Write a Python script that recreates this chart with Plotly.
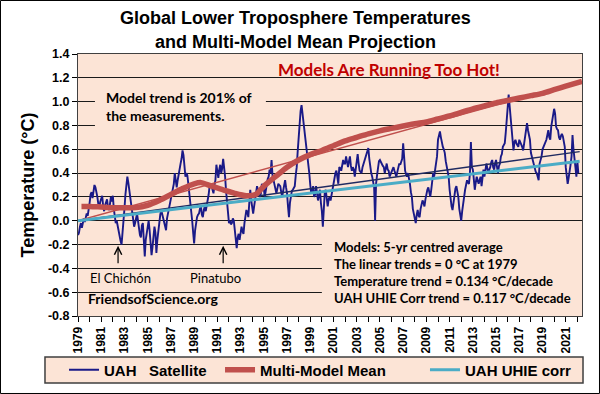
import plotly.graph_objects as go

# ---------------- data ----------------
start_year = 1979
# UAH lower-troposphere monthly anomalies (°C), Jan 1979 onward
uah_satellite = [
    -0.12, -0.10, -0.05, -0.02, -0.06, -0.03, 0.02, -0.01, 0.03, 0.06, 0.04, 0.08,   # 1979
    0.15, 0.22, 0.24, 0.19, 0.27, 0.30, 0.28, 0.25, 0.20, 0.14, 0.11, 0.16,          # 1980
    0.19, 0.21, 0.12, 0.08, 0.13, 0.15, 0.18, 0.11, 0.09, 0.14, 0.20, 0.16,          # 1981
    0.21, 0.10, 0.04, -0.02, 0.00, -0.05, -0.08, -0.12, -0.17, -0.20, -0.12, -0.02,  # 1982
    0.10, 0.22, 0.30, 0.37, 0.32, 0.26, 0.21, 0.15, 0.06, 0.00, -0.05, -0.02,        # 1983
    0.02, 0.06, 0.00, -0.08, -0.12, -0.14, -0.04, -0.02, -0.22, -0.30, -0.16, -0.10, # 1984
    -0.05, 0.00, -0.08, -0.18, -0.29, -0.22, -0.12, -0.05, -0.10, -0.27, -0.16, -0.08, # 1985
    -0.01, 0.05, 0.09, 0.06, 0.03, 0.00, -0.04, -0.08, 0.02, 0.06, 0.10, 0.12,       # 1986
    0.16, 0.23, 0.27, 0.31, 0.40, 0.33, 0.28, 0.34, 0.40, 0.44, 0.48, 0.52,          # 1987
    0.59, 0.55, 0.42, 0.37, 0.40, 0.38, 0.31, 0.24, 0.17, 0.08, 0.00, -0.10,         # 1988
    -0.19, -0.08, -0.02, 0.03, 0.05, 0.06, 0.10, 0.12, 0.05, 0.03, 0.09, 0.12,       # 1989
    0.08, 0.12, 0.15, 0.22, 0.29, 0.30, 0.31, 0.26, 0.23, 0.30, 0.34, 0.47,          # 1990
    0.40, 0.36, 0.43, 0.47, 0.40, 0.44, 0.52, 0.45, 0.37, 0.25, 0.17, 0.05,          # 1991
    -0.02, 0.00, -0.03, -0.02, 0.02, 0.00, -0.08, -0.15, -0.23, -0.14, -0.11, -0.16, # 1992
    -0.12, -0.05, -0.09, -0.11, -0.02, 0.03, 0.09, 0.07, 0.03, 0.15, 0.26, 0.17,     # 1993
    0.10, 0.06, 0.12, 0.17, 0.24, 0.29, 0.26, 0.23, 0.20, 0.23, 0.31, 0.29,          # 1994
    0.27, 0.20, 0.26, 0.31, 0.35, 0.37, 0.43, 0.40, 0.51, 0.38, 0.34, 0.29,          # 1995
    0.26, 0.23, 0.27, 0.31, 0.30, 0.29, 0.24, 0.20, 0.25, 0.29, 0.34, 0.28,          # 1996
    0.23, 0.12, 0.03, 0.15, 0.23, 0.25, 0.26, 0.28, 0.29, 0.38, 0.45, 0.58,          # 1997
    0.70, 0.87, 0.92, 0.97, 0.90, 0.85, 0.79, 0.70, 0.62, 0.55, 0.51, 0.40,          # 1998
    0.30, 0.23, 0.26, 0.29, 0.20, 0.22, 0.29, 0.22, 0.17, 0.21, 0.26, 0.15,          # 1999
    0.08, -0.05, 0.15, 0.24, 0.26, 0.20, 0.12, 0.18, 0.20, 0.17, 0.22, 0.26,         # 2000
    0.30, 0.37, 0.40, 0.42, 0.36, 0.31, 0.45, 0.44, 0.42, 0.47, 0.51, 0.48,          # 2001
    0.48, 0.54, 0.50, 0.45, 0.50, 0.54, 0.46, 0.42, 0.45, 0.43, 0.37, 0.45,          # 2002
    0.48, 0.56, 0.48, 0.42, 0.41, 0.40, 0.45, 0.48, 0.51, 0.54, 0.56, 0.58,          # 2003
    0.61, 0.52, 0.45, 0.40, 0.37, 0.31, 0.28, 0.00, 0.31, 0.38, 0.45, 0.50,          # 2004
    0.51, 0.49, 0.47, 0.46, 0.45, 0.40, 0.44, 0.48, 0.43, 0.42, 0.37, 0.39,          # 2005
    0.40, 0.43, 0.45, 0.42, 0.40, 0.37, 0.41, 0.45, 0.48, 0.47, 0.51, 0.52,          # 2006
    0.65, 0.50, 0.42, 0.39, 0.37, 0.40, 0.36, 0.31, 0.24, 0.20, 0.10, 0.06,          # 2007
    0.00, -0.02, 0.05, 0.09, 0.04, 0.03, 0.10, 0.14, 0.17, 0.15, 0.12, 0.18,         # 2008
    0.23, 0.26, 0.28, 0.24, 0.20, 0.26, 0.31, 0.40, 0.37, 0.42, 0.48, 0.54,          # 2009
    0.68, 0.72, 0.75, 0.70, 0.65, 0.62, 0.60, 0.57, 0.50, 0.45, 0.40, 0.37,          # 2010
    0.26, 0.18, 0.12, 0.09, 0.15, 0.23, 0.27, 0.29, 0.24, 0.20, 0.10, 0.06,          # 2011
    0.00, 0.08, 0.15, 0.22, 0.26, 0.30, 0.34, 0.32, 0.31, 0.40, 0.66, 0.45,          # 2012
    0.43, 0.35, 0.26, 0.32, 0.37, 0.34, 0.31, 0.34, 0.37, 0.29, 0.35, 0.43,          # 2013
    0.37, 0.42, 0.48, 0.44, 0.40, 0.43, 0.45, 0.49, 0.51, 0.45, 0.43, 0.48,          # 2014
    0.51, 0.45, 0.40, 0.46, 0.48, 0.54, 0.56, 0.62, 0.64, 0.65, 0.74, 0.82,          # 2015
    0.95, 1.06, 0.95, 0.90, 0.79, 0.65, 0.59, 0.66, 0.68, 0.65, 0.64, 0.62,          # 2016
    0.68, 0.66, 0.65, 0.62, 0.59, 0.66, 0.71, 0.78, 0.82, 0.76, 0.72, 0.68,          # 2017
    0.57, 0.54, 0.51, 0.46, 0.43, 0.41, 0.40, 0.36, 0.34, 0.48, 0.51, 0.54,          # 2018
    0.60, 0.62, 0.65, 0.67, 0.68, 0.72, 0.76, 0.70, 0.68, 0.79, 0.84, 0.87,          # 2019
    0.94, 0.90, 0.79, 0.77, 0.76, 0.70, 0.68, 0.71, 0.73, 0.71, 0.65, 0.62,          # 2020
    0.45, 0.38, 0.31, 0.36, 0.40, 0.47, 0.54, 0.72, 0.60, 0.54, 0.45, 0.37,          # 2021
    0.50, 0.40,                                                                      # 2022
]
uah_time = [start_year + i / 12 for i in range(len(uah_satellite))]

# Multi-model mean (5-yr centred average)
model_year = [1979.3, 1980, 1981, 1982, 1983, 1984, 1985, 1986, 1987, 1988, 1989, 1989.6,
              1990.5, 1991.5, 1992.5, 1993.5, 1994.3, 1995, 1996, 1997, 1998, 1999, 2000,
              2001, 2002, 2003, 2004, 2005, 2006, 2007, 2008, 2009, 2010, 2011, 2012, 2013,
              2014, 2015, 2016, 2017, 2018, 2019, 2020, 2021, 2022.4]
model_mean = [0.12, 0.12, 0.115, 0.11, 0.11, 0.11, 0.13, 0.17, 0.22, 0.27, 0.31, 0.32,
              0.29, 0.26, 0.23, 0.21, 0.22, 0.29, 0.37, 0.45, 0.51, 0.555, 0.59,
              0.63, 0.67, 0.70, 0.73, 0.755, 0.775, 0.795, 0.815, 0.83, 0.855, 0.88, 0.91, 0.94,
              0.965, 0.99, 1.01, 1.03, 1.05, 1.07, 1.10, 1.13, 1.17]

# Linear trend lines (end points)
trend_year = [1979, 2022.2]
uah_trend = [0.0, 0.58]
uhie_corr = [0.0, 0.50]
model_trend_year = [1979, 2022.4]
model_trend = [0.0, 1.17]

x_tick_years = list(range(1979, 2022, 2))
x_tick_labels = [str(y) for y in x_tick_years]
y_tick_vals = [-0.8, -0.6, -0.4, -0.2, 0.0, 0.2, 0.4, 0.6, 0.8, 1.0, 1.2, 1.4]
y_tick_labels = ["-0.8", "-0.6", "-0.4", "-0.2", "0.0", "0.2", "0.4", "0.6", "0.8", "1.0", "1.2", "1.4"]

title_lines = ["Global Lower Troposphere Temperatures", "and Multi-Model Mean Projection"]

# ---------------- styling ----------------
PEACH = "#fce4d6"
NAVY = "#1a1a88"
RED = "#c0504d"
CYAN = "#4bacc6"
ARIAL = "Liberation Sans, Arial, sans-serif"
CALIBRI = "Lato, Carlito, Calibri, sans-serif"

fig = go.Figure()
fig.add_trace(go.Scatter(x=uah_time, y=uah_satellite, mode="lines", name="UAH\u00a0\u00a0 Satellite",
                         line=dict(color=NAVY, width=1.9), legend="legend"))
fig.add_trace(go.Scatter(x=trend_year, y=uah_trend, mode="lines", showlegend=False,
                         line=dict(color="#1f2a60", width=1.3), hoverinfo="skip"))
fig.add_trace(go.Scatter(x=model_trend_year, y=model_trend, mode="lines", showlegend=False,
                         line=dict(color=RED, width=1.5), hoverinfo="skip"))
fig.add_trace(go.Scatter(x=model_year, y=model_mean, mode="lines", name="Multi-Model Mean",
                         line=dict(color=RED, width=5.5, shape="spline", smoothing=0.8), legend="legend2"))
fig.add_trace(go.Scatter(x=trend_year, y=uhie_corr, mode="lines", name="UAH UHIE corr",
                         line=dict(color=CYAN, width=3), legend="legend3"))

# peach boxes behind the text (hide grid lines like the original text boxes)
fig.add_shape(type="rect", xref="x", yref="y", x0=1980.46, x1=1995.18, y0=0.72, y1=1.11,
              fillcolor=PEACH, line_width=0, layer="between")
fig.add_shape(type="rect", xref="x", yref="y", x0=2000.0, x1=2022.4, y0=-0.79, y1=-0.11,
              fillcolor=PEACH, line_width=0, layer="between")
# legend frame
fig.add_shape(type="rect", xref="paper", yref="paper", x0=-0.0655, x1=1.002, y0=-0.2557, y1=-0.1565,
              fillcolor=PEACH, line=dict(color="#3f3f3f", width=1.5), layer="above")
# outer chart frame
fig.add_shape(type="rect", xref="paper", yref="paper", x0=-0.1538, x1=1.0347, y0=-0.2958, y1=1.2042,
              line=dict(color="black", width=1), fillcolor="rgba(0,0,0,0)", layer="above")

ann = []
ann.append(dict(x=0.4325, y=1.1374, xref="paper", yref="paper", showarrow=False, text=title_lines[0],
                xanchor="center", yanchor="middle",
                font=dict(family=ARIAL, size=18, color="black", weight="bold")))
ann.append(dict(x=0.4325, y=1.0458, xref="paper", yref="paper", showarrow=False, text=title_lines[1],
                xanchor="center", yanchor="middle",
                font=dict(family=ARIAL, size=18, color="black", weight="bold")))
ann.append(dict(x=2005.8, y=1.266, xref="x", yref="y", showarrow=False,
                text="Models Are Running Too Hot!",
                font=dict(family=CALIBRI, size=17, color="#c00000", weight="bold")))
ann.append(dict(x=1981.24, y=0.959, xref="x", yref="y", showarrow=False, xanchor="left", align="left",
                text="Model trend is 201% of<br>the measurements.",
                font=dict(family=CALIBRI, size=14, color="black", weight="bold")))
ann.append(dict(x=1982.7, y=-0.48, xref="x", yref="y", showarrow=False, text="El Chichón",
                font=dict(family=CALIBRI, size=13, color="black")))
ann.append(dict(x=1990.8, y=-0.48, xref="x", yref="y", showarrow=False, text="Pinatubo",
                font=dict(family=CALIBRI, size=13, color="black")))
ann.append(dict(x=1982.45, y=-0.21, ax=1982.45, ay=-0.37, xref="x", yref="y", axref="x", ayref="y",
                showarrow=True, text="", arrowhead=5, arrowsize=1.2, arrowwidth=1.2, arrowcolor="black"))
ann.append(dict(x=1991.5, y=-0.21, ax=1991.5, ay=-0.37, xref="x", yref="y", axref="x", ayref="y",
                showarrow=True, text="", arrowhead=5, arrowsize=1.2, arrowwidth=1.2, arrowcolor="black"))
ann.append(dict(x=1985.45, y=-0.65, xref="x", yref="y", showarrow=False, text="FriendsofScience.org",
                font=dict(family=CALIBRI, size=14, color="black", weight="bold")))
ann.append(dict(x=2000.86, y=-0.431, xref="x", yref="y", showarrow=False, xanchor="left", align="left",
                text="Models: 5-yr centred average<br>The linear trends = 0 °C at 1979<br>"
                     "Temperature trend = 0.134 °C/decade<br>UAH UHIE Corr trend = 0.117 °C/decade",
                font=dict(family=CALIBRI, size=13, color="black", weight="bold")))

legend_font = dict(family=ARIAL, size=15, color="black", weight="bold")
legend_common = dict(orientation="h", xref="container", yref="container", xanchor="left",
                     yanchor="middle", y=0.0609, bgcolor="rgba(0,0,0,0)", borderwidth=0,
                     itemwidth=30, font=legend_font)

fig.update_layout(
    width=600, height=394,
    margin=dict(l=78, r=18, t=54, b=78, autoexpand=False),
    paper_bgcolor="white", plot_bgcolor=PEACH,
    xaxis=dict(range=[1979, 2022.4], tickmode="array", tickvals=x_tick_years, ticktext=x_tick_labels,
               tickangle=-90, ticks="outside", ticklen=5, tickcolor="black", showgrid=False, zeroline=False,
               showline=True, linecolor="#404040", linewidth=1, mirror=True,
               tickfont=dict(family=ARIAL, size=12, color="black", weight="bold"),
               minor=dict(tick0=1979, dtick=1, ticks="outside", ticklen=5, tickcolor="black", showgrid=False)),
    yaxis=dict(range=[-0.8, 1.4], tickmode="array", tickvals=y_tick_vals, ticktext=y_tick_labels,
               ticks="outside", ticklen=5, tickcolor="black", showgrid=True, gridcolor="#1a1a1a", gridwidth=1,
               zeroline=False, showline=True, linecolor="#404040", linewidth=1, mirror=True,
               tickfont=dict(family=ARIAL, size=12.5, color="black", weight="bold"),
               title=dict(text="Temperature (°C)", standoff=8,
                          font=dict(family=ARIAL, size=18, color="black", weight="bold"))),
    legend=dict(x=0.1067, **legend_common),
    legend2=dict(x=0.3667, **legend_common),
    legend3=dict(x=0.7083, **legend_common),
    annotations=ann,
    showlegend=True,
)

fig.write_html("out.html", config={"displayModeBar": False},
               post_script="document.body.style.margin='0';document.body.style.overflow='hidden';")
